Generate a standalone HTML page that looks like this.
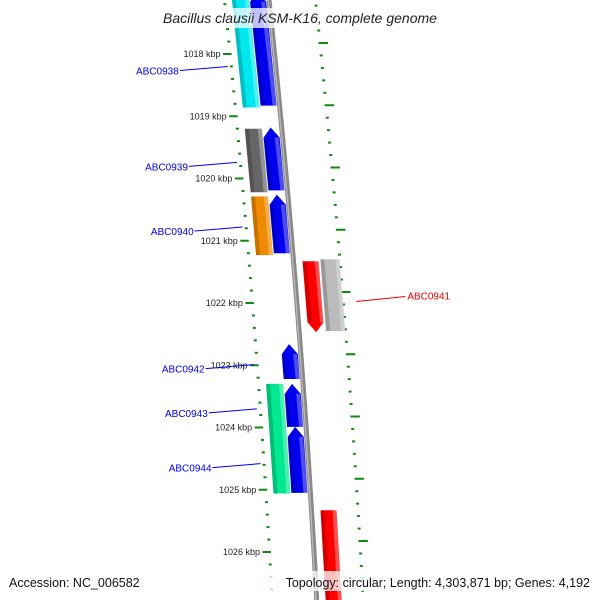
<!DOCTYPE html>
<html><head><meta charset="utf-8"><style>
html,body{margin:0;padding:0;background:#fff;}
svg{display:block;font-family:"Liberation Sans",sans-serif;}
</style></head><body>
<svg id="map" width="600" height="600" viewBox="0 0 600 600" xmlns="http://www.w3.org/2000/svg">
<defs>
<linearGradient id="bb" x1="0" x2="1" y1="0" y2="0"><stop offset="0" stop-color="#777"/><stop offset="0.5" stop-color="#aaa"/><stop offset="1" stop-color="#666"/></linearGradient>
</defs>
<g id="ticks"></g>
<g id="genes"></g>
<g id="labels"></g>
</svg>
<script>
const NS="http://www.w3.org/2000/svg";
// data
const tickKbp=[1018,1019,1020,1021,1022,1023,1024,1025,1026];
const geneNames=["ABC0938","ABC0938b","ABC0939","ABC0939b","ABC0940","ABC0940b","ABC0941","ABC0941b","ABC0942","ABC0943","ABC0943b","ABC0944","ABC0944b","ABC0945"];
const geneStart=[1017.0,1017.0,1019.18,1019.2,1020.26,1020.29,1021.33,1021.30,1022.66,1023.3,1023.3,1023.99,1024.0,1023.0+2.33];
const geneEnd=[1018.83,1018.86,1020.19,1020.22,1021.2,1021.23,1022.47,1022.45,1023.22,1023.99,1024.0,1025.05,1025.06,1026.9];
const geneLane=[1,2,1,2,1,2,1,2,1,1,2,1,2,1];
const geneSide=[-1,-1,-1,-1,-1,-1,1,1,-1,-1,-1,-1,-1,1];
const geneColor=["#0000ee","#00e8ee","#0000ee","#666666","#0000ee","#f08a00","#ff0000","#bbbbbb","#0000ee","#0000ee","#00e890","#0000ee","#00e890","#ff0000"];
const geneArrow=["up","none","up","none","up","none","down","none","up","up","none","up","none","none"];
const labelText=["ABC0938","ABC0939","ABC0940","ABC0941","ABC0942","ABC0943","ABC0944"];
const labelKbp=[1018.2,1019.74,1020.78,1021.88,1022.99,1023.7,1024.58];
const labelSide=[-1,-1,-1,1,-1,-1,-1];

const Y=k=>54+(k-1018)*62.25;
const bx=y=>269+0.105*y-0.0000425*y*y;
const LOFF={"-1":{1:[-19,-3],2:[-37,-20]},"1":{1:[9,25],2:[27,46]}};
function mk(tag,attrs,parent,name){const e=document.createElementNS(NS,tag);for(const k in attrs)e.setAttribute(k,attrs[k]);


parent.appendChild(e);return e;}
const svg=document.getElementById('map');
const T=document.getElementById('ticks'),G=document.getElementById('genes'),L=document.getElementById('labels');
// backbone
let pts=[];for(let y=0;y<=600;y+=20)pts.push([bx(y),y]);
mk('polyline',{points:pts.map(p=>p.join(',')).join(' '),fill:'none',stroke:'#888',"stroke-width":5},G,'backbone');
mk('polyline',{points:pts.map(p=>(p[0]-0.8)+','+p[1]).join(' '),fill:'none',stroke:'#b5b5b5',"stroke-width":1.5},G,'backbone-highlight');
// ticks
const k0=tickKbp[0]-1,k1=tickKbp[tickKbp.length-1]+1;
for(let i=Math.round(k0*5);i<=Math.round(k1*5);i++){const k=i/5;const major=(i%5===0);
 // left
 let y=Y(k);if(y<-5||y>605)continue;
 let xl=bx(y)-44.5;
 mk('line',{x1:major?xl-7:xl-1.5,x2:xl+1.5,y1:y,y2:y,stroke:'#118811',"stroke-width":2},T,major?'major-tick-left':'minor-tick-left');
 let y2=y-11,xr=bx(y2)+46.5;
 mk('line',{x1:xr-1.5,x2:major?xr+8:xr+1.5,y1:y2,y2:y2,stroke:'#118811',"stroke-width":2},T,major?'major-tick-right':'minor-tick-right');
}
tickKbp.forEach(k=>{const y=Y(k);const t=mk('text',{x:bx(y)-54,y:y+3,"font-size":9,"text-anchor":"end",fill:'#222'},T,'tick-label-'+k);t.textContent=k+' kbp';});
// genes
geneNames.forEach((n,i)=>{
 const y1=Y(geneStart[i]),y2=Y(geneEnd[i]);const o=LOFF[geneSide[i]][geneLane[i]];
 const a=(y)=>[bx(y)+o[0],bx(y)+o[1]];
 let p;const h=10;
 if(geneArrow[i]==='up'){const t=a(y1),s=a(y1+h),b=a(y2);p=[[(t[0]+t[1])/2,y1],[s[1],y1+h],[b[1],y2],[b[0],y2],[s[0],y1+h]];}
 else if(geneArrow[i]==='down'){const t=a(y1),s=a(y2-h),b=a(y2);p=[[t[0],y1],[t[1],y1],[s[1],y2-h],[(b[0]+b[1])/2,y2],[s[0],y2-h]];}
 else{const t=a(y1),b=a(y2);p=[[t[0],y1],[t[1],y1],[b[1],y2],[b[0],y2]];}
 mk('polygon',{points:p.map(q=>q.join(',')).join(' '),fill:geneColor[i]},G,'gene-'+n);
 const t=a(y1),b=a(y2);
 mk('polygon',{points:`${t[0]},${y1+(geneArrow[i]==='up'?h:0)} ${t[0]+4},${y1+(geneArrow[i]==='up'?h:0)} ${b[0]+4},${y2-(geneArrow[i]==='down'?h:0)} ${b[0]},${y2-(geneArrow[i]==='down'?h:0)}`,fill:'#000',opacity:0.18},G,'gene-shade-'+n);
 mk('polygon',{points:`${t[1]-4},${y1+(geneArrow[i]==='up'?h:0)} ${t[1]},${y1+(geneArrow[i]==='up'?h:0)} ${b[1]},${y2-(geneArrow[i]==='down'?h:0)} ${b[1]-4},${y2-(geneArrow[i]==='down'?h:0)}`,fill:'#fff',opacity:0.3},G,'gene-highlight-'+n);
});
// labels
labelText.forEach((n,i)=>{const y=Y(labelKbp[i]);const s=labelSide[i];const c=s<0?'#0000ee':'#ee0000';
 if(s<0){const xe=bx(y)-48;mk('line',{x1:xe-48,y1:y+4,x2:xe,y2:y,stroke:c,"stroke-width":1},L,'label-line-'+n);
  const t=mk('text',{x:xe-49,y:y+8,"font-size":10,"text-anchor":"end",fill:c},L,'gene-label-'+n);t.textContent=n;}
 else{const xs=bx(y)+60;mk('line',{x1:xs,y1:y+6,x2:xs+49,y2:y+1,stroke:c,"stroke-width":1},L,'label-line-'+n);
  const t=mk('text',{x:xs+51,y:y+4,"font-size":10,fill:c},L,'gene-label-'+n);t.textContent=n;}
});
// title / footer
mk('rect',{x:148,y:8,width:304,height:20,fill:'#fff',opacity:0.75},L,'title-bg');
let t=mk('text',{x:300,y:23,"font-size":14,"font-style":"italic","text-anchor":"middle",fill:'#222'},L,'chart-title');t.textContent='Bacillus clausii KSM-K16, complete genome';
mk('rect',{x:260,y:571,width:334,height:20,fill:'#fff',opacity:0.75},L,'footer-bg');
t=mk('text',{x:9,y:587,"font-size":12.5,fill:'#111'},L,'accession-text');t.textContent='Accession: NC_006582';
t=mk('text',{x:590,y:587,"font-size":12.5,"text-anchor":"end",fill:'#111'},L,'topology-text');t.textContent='Topology: circular; Length: 4,303,871 bp; Genes: 4,192';
</script>
</body></html>
